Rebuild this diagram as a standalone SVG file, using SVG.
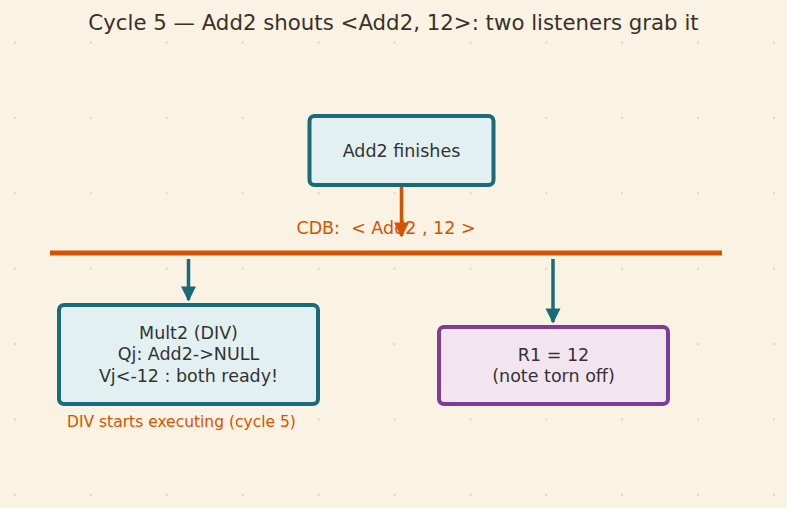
<svg xmlns="http://www.w3.org/2000/svg" width="787" height="508" viewBox="0 0 787 508">
<style>
text{font-family:"DejaVu Sans","Noto Sans",sans-serif;fill:#333;}
.title{font-size:21.3px;fill:#3a3128;}
.lbl{font-size:17.5px;text-anchor:middle;}
.orange{fill:#d35400;}
.teal{fill:#e3f0f1;stroke:#1a6b7a;stroke-width:4;}
.purple{fill:#f3e5f0;stroke:#7d3c98;stroke-width:4;}
.tarrow{stroke:#1a6b7a;stroke-width:3.5;fill:none;}
</style>
<defs>
<pattern id="dots" x="14" y="41.5" width="75.9" height="75.4" patternUnits="userSpaceOnUse">
<circle cx="1" cy="1" r="1" fill="#d5cbb8"/>
</pattern>
<marker id="ht" viewBox="0 0 10 10" refX="9" refY="5" markerWidth="4.3" markerHeight="4.3" orient="auto" markerUnits="strokeWidth">
<path d="M0,0 L10,5 L0,10 z" fill="#1a6b7a"/>
</marker>
<marker id="ho" viewBox="0 0 10 10" refX="9" refY="5" markerWidth="4.3" markerHeight="4.3" orient="auto" markerUnits="strokeWidth">
<path d="M0,0 L10,5 L0,10 z" fill="#d35400"/>
</marker>
</defs>
<rect width="787" height="508" fill="#faf2e3"/>
<rect x="0" y="0" width="787" height="508" fill="url(#dots)"/>
<text class="title" x="393.5" y="30" text-anchor="middle">Cycle 5 — Add2 shouts &lt;Add2, 12&gt;: two listeners grab it</text>

<g id="cdb-bus">
<line x1="50" y1="253" x2="722" y2="253" stroke="#d35400" stroke-width="5"/>
</g>

<g id="add2">
<rect class="teal" x="309.5" y="116" width="184" height="69" rx="5"/>
<text class="lbl" x="401.5" y="157">Add2 finishes</text>
</g>

<g id="mult2">
<rect class="teal" x="59" y="305" width="259" height="99" rx="5"/>
<text class="lbl" x="188.5" y="339">Mult2 (DIV)</text>
<text class="lbl" x="188.5" y="360">Qj: Add2-&gt;NULL</text>
<text class="lbl" x="188.5" y="382">Vj&lt;-12 : both ready!</text>
</g>
<text class="orange" x="67" y="427" font-size="15.5">DIV starts executing (cycle 5)</text>

<g id="r1">
<rect class="purple" x="439" y="327" width="229" height="77" rx="5"/>
<text class="lbl" x="553.5" y="361">R1 = 12</text>
<text class="lbl" x="553.5" y="382">(note torn off)</text>
</g>

<g id="connectors">
<line x1="401.5" y1="187" x2="401.5" y2="236" stroke="#d35400" stroke-width="3.5" marker-end="url(#ho)"/>
<line class="tarrow" x1="188.5" y1="259" x2="188.5" y2="300" marker-end="url(#ht)"/>
<line class="tarrow" x1="553" y1="259" x2="553" y2="322" marker-end="url(#ht)"/>
</g>
<text class="lbl orange" x="386" y="234" xml:space="preserve">CDB:  &lt; Add2 , 12 &gt;</text>
</svg>
